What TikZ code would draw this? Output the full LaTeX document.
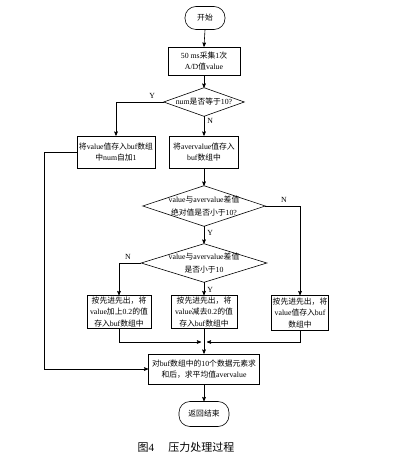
\documentclass[tikz,border=0pt]{standalone}
\usepackage{fontspec}
\setmainfont{Liberation Serif}
\newfontfamily\cjk{Noto Sans CJK SC}
\usepackage{tikz}
\usetikzlibrary{arrows}
\tikzset{
proc/.style={
  rectangle,
  inner sep=1pt,
  align=center,
  draw=black,
  font=\fontsize{7.8}{11.5}\selectfont
  },
term/.style={
  proc,
  rounded corners=11pt
  },
dec/.style={
  rectangle,
  inner sep=0pt,
  align=center,
  font=\fontsize{7.8}{12.5}\selectfont
  },
lbl/.style={
  font=\fontsize{7.8}{9}\selectfont,
  inner sep=0pt,
  text=black
  }
}

\begin{document}
\begin{tikzpicture}[x=1pt,y=-1pt,->,>=stealth',semithick]
        \useasboundingbox (0,0) rectangle (415,454);
        \node[term,minimum width=40pt,minimum height=23pt] at (205,18) (start) {{\cjk 开始}};
        \node[proc,minimum width=72pt,minimum height=28pt] at (204,61) (acq) {50 ms{\cjk 采集}1{\cjk 次}\\A/D{\cjk 值}value};
        \node[dec,minimum width=80pt,minimum height=28pt] at (204,102) (dec1) {num{\cjk 是否等于}10?};
        \node[proc,minimum width=78pt,minimum height=32pt] at (116,152) (store1) {{\cjk 将}value{\cjk 值存入}buf{\cjk 数组}\\{\cjk 中}num{\cjk 自加}1};
        \node[proc,minimum width=69pt,minimum height=32pt] at (204,152) (store2) {{\cjk 将}avervalue{\cjk 值存入}\\buf{\cjk 数组中}};
        \node[dec,minimum width=122pt,minimum height=40pt] at (204,206) (dec2) {value{\cjk 与}avervalue{\cjk 差值}\\{\cjk 绝对值是否小于}10?};
        \node[dec,minimum width=125pt,minimum height=38pt] at (204,263) (dec3) {value{\cjk 与}avervalue{\cjk 差值}\\{\cjk 是否小于}10};
        \node[proc,minimum width=64pt,minimum height=33pt] at (119,312) (add) {{\cjk 按先进先出，将}\\value{\cjk 加上}0.2{\cjk 的值}\\{\cjk 存入}buf{\cjk 数组中}};
        \node[proc,minimum width=66pt,minimum height=33pt] at (204,312) (sub) {{\cjk 按先进先出，将}\\value{\cjk 减去}0.2{\cjk 的值}\\{\cjk 存入}buf{\cjk 数组中}};
        \node[proc,minimum width=57pt,minimum height=35pt] at (300,313) (keep) {{\cjk 按先进先出，将}\\value{\cjk 值存入}buf\\{\cjk 数组中}};
        \node[proc,minimum width=111pt,minimum height=30pt] at (204,369) (avg) {{\cjk 对}buf{\cjk 数组中的}10{\cjk 个数据元素求}\\{\cjk 和后，求平均值}avervalue};
        \node[term,minimum width=50pt,minimum height=25pt] at (204,414) (end) {{\cjk 返回结束}};
        \node[lbl,font=\fontsize{11}{13}\selectfont] at (186,447) (cap) {{\cjk 图}4\hspace{1.3em}{\cjk 压力处理过程}};
        % diamonds
        \foreach \d in {dec1,dec2,dec3}
            \draw[-] (\d.north) -- (\d.east) -- (\d.south) -- (\d.west) -- cycle;
        \coordinate (mL) at (201,342);
        \coordinate (mR) at (207,342);
        \coordinate (lft) at (44,152);
        \draw (start.south) -- (acq.north);
        \draw (acq.south) -- (dec1.north);
        \draw (dec1.west) -| node[lbl,pos=0.12,above=3pt] {Y} (store1.north);
        \draw (dec1.south) -- node[lbl,pos=0.25,right=3pt] {N} (store2.north);
        \draw (store2.south) -- (dec2.north);
        \draw (dec2.east) -| node[lbl,pos=0.27,above=3pt] {N} (keep.north);
        \draw (dec2.south) -- node[lbl,pos=0.4,right=3pt] {Y} (dec3.north);
        \draw (dec3.west) -| node[lbl,pos=0.3,above=3pt] {N} (add.north);
        \draw (dec3.south) -- node[lbl,pos=0.6,right=3pt] {Y} (sub.north);
        \draw (add.south) |- (mL);
        \draw (keep.south) |- (mR);
        \draw (sub.south) -- (avg.north);
        \draw (store1.west) -- (lft) |- (avg.west);
        \draw (avg.south) -- (end.north);
    \end{tikzpicture}
\end{document}
